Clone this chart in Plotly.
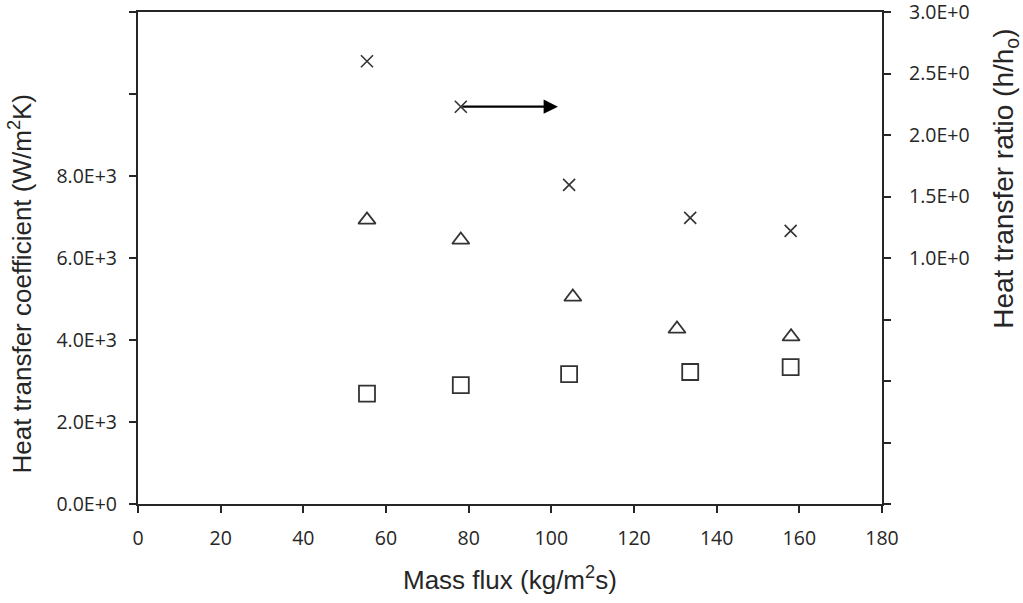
import plotly.graph_objects as go

# ---- data ----
mass_flux_cross = [55.4, 78.1, 104.3, 133.6, 157.9]
ratio_cross = [2.60, 2.23, 1.595, 1.326, 1.22]

mass_flux_tri = [55.4, 78.1, 105.2, 130.4, 158.0]
htc_tri = [6930, 6440, 5050, 4270, 4080]

mass_flux_sq = [55.4, 78.1, 104.3, 133.6, 157.9]
htc_sq = [2690, 2900, 3170, 3220, 3340]

x_ticks = [0, 20, 40, 60, 80, 100, 120, 140, 160, 180]
y_left_ticks = [0, 2000, 4000, 6000, 8000, 10000, 12000]
y_left_labels = ["0.0E+0", "2.0E+3", "4.0E+3", "6.0E+3", "8.0E+3", "", ""]
y_right_ticks = [-1.0, -0.5, 0.0, 0.5, 1.0, 1.5, 2.0, 2.5, 3.0]
y_right_labels = ["", "", "", "", "1.0E+0", "1.5E+0", "2.0E+0", "2.5E+0", "3.0E+0"]

arrow_start = (78.1, 2.23)
arrow_end = (101.6, 2.23)

ink = "#262626"
mk = "#333333"

fig = go.Figure()
fig.add_trace(go.Scatter(x=mass_flux_sq, y=htc_sq, mode="markers",
                         marker=dict(symbol="square-open", size=16, color=mk,
                                     line=dict(width=1.8, color=mk)),
                         showlegend=False))
fig.add_trace(go.Scatter(x=mass_flux_tri, y=htc_tri, mode="markers",
                         marker=dict(symbol="triangle-up-open", size=15, color=mk,
                                     line=dict(width=1.8, color=mk)),
                         showlegend=False))
fig.add_trace(go.Scatter(x=mass_flux_cross, y=ratio_cross, mode="markers", yaxis="y2",
                         marker=dict(symbol="x-thin-open", size=12, color=mk,
                                     line=dict(width=1.6, color=mk)),
                         showlegend=False))

fig.add_annotation(x=arrow_end[0], y=arrow_end[1], xref="x", yref="y2",
                   ax=arrow_start[0], ay=arrow_start[1], axref="x", ayref="y2",
                   showarrow=True, arrowhead=2, arrowsize=1.3, arrowwidth=2.2,
                   arrowcolor="#000000", text="")

tick_font = dict(family="Open Sans, DejaVu Sans, sans-serif", size=19.5, color=ink)
title_font = dict(family="Liberation Sans, Arial, sans-serif", size=26, color=ink)
title_font_r = dict(family="Liberation Sans, Arial, sans-serif", size=28, color=ink)

fig.update_layout(
    width=1023, height=603,
    margin=dict(l=138, r=141, t=12, b=99),
    paper_bgcolor="white", plot_bgcolor="white",
    xaxis=dict(range=[0, 180], tickvals=x_ticks, ticks="outside", ticklen=7,
               tickwidth=1.5, tickcolor=ink, showline=True, linewidth=2.2,
               linecolor=ink, mirror=True, showgrid=False, zeroline=False,
               tickfont=tick_font, automargin=False, ticklabelstandoff=8,
               ticklabeloverflow="allow"),
    yaxis=dict(range=[0, 12000], tickvals=y_left_ticks, ticktext=y_left_labels,
               ticks="outside", ticklen=7, tickwidth=1.5, tickcolor=ink,
               showline=True, linewidth=2.2, linecolor=ink, showgrid=False,
               zeroline=False, tickfont=tick_font, automargin=False,
               ticklabelstandoff=8, ticklabeloverflow="allow"),
    yaxis2=dict(range=[-1, 3], tickvals=y_right_ticks, ticktext=y_right_labels,
                overlaying="y", side="right", ticks="outside", ticklen=7,
                tickwidth=1.5, tickcolor=ink, showline=True, linewidth=2.2,
                linecolor=ink, showgrid=False, zeroline=False, tickfont=tick_font,
                automargin=False, ticklabelstandoff=14, ticklabeloverflow="allow"),
)

fig.add_annotation(text="Mass flux (kg/m<sup>2</sup>s)", xref="paper", yref="paper",
                   x=0.5, y=-0.152, yanchor="middle", showarrow=False, font=title_font)
fig.add_annotation(text="Heat transfer coefficient (W/m<sup>2</sup>K)", xref="paper",
                   yref="paper", x=-0.158, y=0.449, textangle=-90, showarrow=False,
                   xanchor="center", yanchor="middle", font=title_font)
fig.add_annotation(text="Heat transfer ratio (h/h<sub>o</sub>)", xref="paper",
                   yref="paper", x=1.166, y=0.66, textangle=-90, showarrow=False,
                   xanchor="center", yanchor="middle", font=title_font_r)

fig.write_html("out.html", config={"displayModeBar": False},
               post_script="document.body.style.margin='0';document.body.style.overflow='hidden';")
